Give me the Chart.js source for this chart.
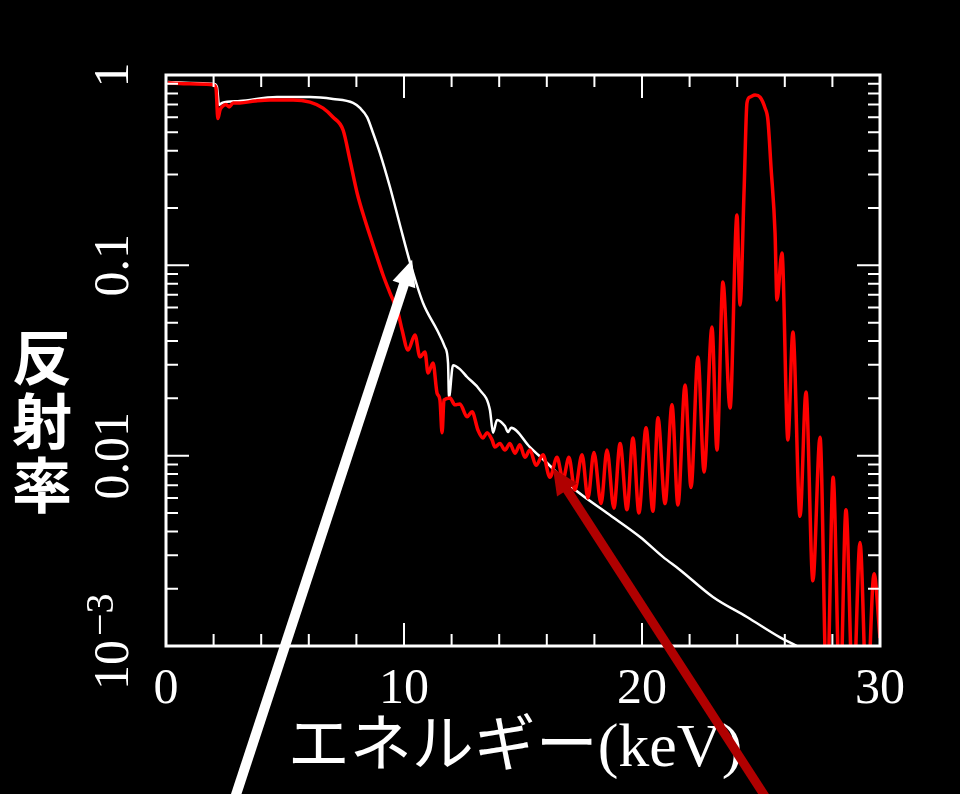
<!DOCTYPE html>
<html>
<head>
<meta charset="UTF-8">
<title>反射率</title>
<script src="https://cdn.jsdelivr.net/npm/chart.js@4.4.0/dist/chart.umd.min.js"></script>
<style>
  body { margin: 0; background: #000; }
  #wrap { width: 960px; height: 794px; }
</style>
</head>
<body>
<div id="wrap"><canvas id="myChart" width="960" height="794"></canvas></div>

<script>
// multilayer (red)
let redE = [0.08,1.0,1.97,2.1,2.18,2.27,2.35,2.52,2.65,2.82,
  3.11,3.74,4.37,5.34,6.05,6.6,7.02,7.44,7.73,8.03,
  8.36,8.7,9.12,9.41,9.75,9.92,10.17,10.46,10.67,10.88,
  11.01,11.22,11.39,11.51,11.6,11.68,11.93,12.14,12.35,12.65,
  12.86,13.11,13.32,13.49,13.7,13.82,14.03,14.24,14.45,14.66,
  14.87,15.08,15.29,15.55,15.84,16.13,16.43,16.68,16.93,17.18,
  17.48,17.73,17.98,18.28,18.53,18.82,19.08,19.37,19.62,19.87,
  20.17,20.46,20.67,20.97,21.26,21.51,21.81,22.06,22.35,22.61,
  22.94,23.15,23.4,23.7,23.99,24.12,24.29,24.41,24.54,24.75,
  24.96,25.17,25.29,25.42,25.59,25.67,25.88,26.13,26.34,26.64,
  26.89,27.18,27.48,27.77,28.03,28.32,28.57,28.87,29.16,29.45,
  29.75,30.0];
let redR = [0.91,0.90,0.89,0.855,0.59,0.655,0.68,0.70,0.68,0.713,
  0.713,0.73,0.74,0.74,0.72,0.67,0.60,0.514,0.357,0.24,
  0.173,0.128,0.089,0.0716,0.0562,0.0457,0.0359,0.0431,0.033,0.0351,
  0.0272,0.0307,0.0213,0.0196,0.0132,0.0196,0.0201,0.0185,0.0187,0.016,
  0.017,0.0136,0.0124,0.0132,0.0121,0.0111,0.0116,0.0107,0.0116,0.0103,
  0.0114,0.0098,0.0107,0.0089,0.0101,0.0077,0.0098,0.0075,0.0098,0.0066,
  0.0101,0.006,0.0104,0.0056,0.0107,0.0053,0.0116,0.0052,0.0124,0.005,
  0.014,0.0051,0.0158,0.0056,0.0185,0.0055,0.0235,0.0068,0.033,0.0082,
  0.0474,0.0107,0.0817,0.0178,0.184,0.0619,0.249,0.713,0.766,0.785,
  0.766,0.671,0.58,0.329,0.148,0.0658,0.116,0.0121,0.0447,0.0048,
  0.0216,0.0022,0.0125,0.0005,0.0077,0.0005,0.0052,0.0005,0.0035,0.0005,
  0.0024,0.0011];

// single layer (white)
let whiteE = [0.08,1.01,2.02,2.14,2.23,2.35,3.11,4.66,6.05,7.02,
  7.86,8.15,8.45,8.7,8.99,9.41,9.83,10.25,10.8,11.39,
  11.72,11.85,11.89,12.06,12.35,12.65,13.19,13.61,13.74,13.91,
  14.24,14.37,14.5,15.29,16.01,17.1,18.53,19.92,20.88,21.6,
  22.98,24.41,25.8,26.51,27.06];
let whiteR = [0.92,0.908,0.897,0.865,0.696,0.713,0.73,0.766,0.766,0.748,
  0.713,0.671,0.601,0.496,0.389,0.258,0.163,0.104,0.0634,0.0457,
  0.0372,0.0307,0.0203,0.0299,0.0285,0.0259,0.0221,0.0174,0.0132,0.0154,
  0.0143,0.0133,0.014,0.0111,0.00915,0.00676,0.005,0.00374,0.00294,0.00251,
  0.00181,0.00142,0.00111,0.001,0.00091];

let xTicks = [0, 10, 20, 30];
let yTicks = [1, 0.1, 0.01, 0.001];
let yTickLabels = ["1", "0.1", "0.01", "10^\u22123"];

// arrows: [E, R] of tail and tip
let whiteArrow = [[2.75, 0.00014], [10.34, 0.107]];
let redArrow = [[25.5, 0.00014], [16.26, 0.0086]];

function pts(xs, ys) {
  let out = [];
  for (let i = 0; i < xs.length; i++) out.push({x: xs[i], y: ys[i]});
  return out;
}

const TICKFONT = '50px "Liberation Serif"';

const frame = {
  id: 'frame',
  afterDraw(chart) {
    const ctx = chart.ctx, a = chart.chartArea;
    const xs = chart.scales.x, ys = chart.scales.y;
    ctx.save();
    ctx.strokeStyle = '#fff';
    ctx.fillStyle = '#fff';

    // ticks on all four sides
    ctx.lineWidth = 2;
    ctx.beginPath();
    for (let v = 0; v <= 30; v += 2) {
      let px = xs.getPixelForValue(v);
      let len = v % 10 === 0 ? 23 : 12;
      ctx.moveTo(px, a.bottom); ctx.lineTo(px, a.bottom - len);
      ctx.moveTo(px, a.top); ctx.lineTo(px, a.top + len);
    }
    for (let d = -3; d < 0; d++) {
      for (let m = 1; m <= 9; m++) {
        let py = ys.getPixelForValue(m * Math.pow(10, d));
        let len = m === 1 ? 23 : 12;
        ctx.moveTo(a.left, py); ctx.lineTo(a.left + len, py);
        ctx.moveTo(a.right, py); ctx.lineTo(a.right - len, py);
      }
    }
    ctx.stroke();
    ctx.lineWidth = 3;
    ctx.strokeRect(a.left, a.top, a.right - a.left, a.bottom - a.top);

    // x tick labels
    ctx.font = TICKFONT;
    ctx.textAlign = 'center';
    ctx.textBaseline = 'middle';
    xTicks.forEach(v => ctx.fillText(String(v), xs.getPixelForValue(v), a.bottom + 44));

    // y tick labels, rotated
    yTicks.forEach((v, i) => {
      let py = ys.getPixelForValue(v);
      let lab = yTickLabels[i];
      ctx.save();
      if (lab.indexOf('^') >= 0) {
        let parts = lab.split('^');
        ctx.translate(a.left - 51, py + 44);
        ctx.rotate(-Math.PI / 2);
        ctx.textAlign = 'left';
        ctx.font = TICKFONT;
        ctx.fillText(parts[0], 0, 0);
        let w = ctx.measureText(parts[0]).width;
        ctx.font = '40px "Liberation Serif"';
        ctx.fillText(parts[1], w + 4, -13);
      } else {
        ctx.translate(a.left - 51, py);
        ctx.rotate(-Math.PI / 2);
        ctx.fillText(lab, 0, 0);
      }
      ctx.restore();
    });

    // axis titles
    ctx.font = '62px "Liberation Serif", "Noto Sans CJK JP"';
    ctx.textAlign = 'center';
    ctx.fillText('エネルギー(keV)', 515, 750);
    ctx.font = 'bold 60px "Noto Sans CJK JP"';
    ['反', '射', '率'].forEach((c, i) => ctx.fillText(c, 42, 357 + i * 64));

    // arrows
    drawArrow(ctx, xs, ys, whiteArrow, '#ffffff', 10);
    drawArrow(ctx, xs, ys, redArrow, '#b00000', 9);
    ctx.restore();
  }
};

function drawArrow(ctx, xs, ys, arr, color, lw) {
  let x0 = xs.getPixelForValue(arr[0][0]), y0 = ys.getPixelForValue(arr[0][1]);
  let x1 = xs.getPixelForValue(arr[1][0]), y1 = ys.getPixelForValue(arr[1][1]);
  let dx = x1 - x0, dy = y1 - y0, L = Math.hypot(dx, dy);
  let ux = dx / L, uy = dy / L;
  let hl = 26, hw = 12;
  let bx = x1 - ux * hl, by = y1 - uy * hl;
  ctx.strokeStyle = color;
  ctx.fillStyle = color;
  ctx.lineWidth = lw;
  ctx.beginPath();
  ctx.moveTo(x0, y0);
  ctx.lineTo(bx + ux * 2, by + uy * 2);
  ctx.stroke();
  ctx.beginPath();
  ctx.moveTo(x1, y1);
  ctx.lineTo(bx - uy * hw, by + ux * hw);
  ctx.lineTo(bx + uy * hw, by - ux * hw);
  ctx.closePath();
  ctx.fill();
}

new Chart("myChart", {
  type: "line",
  data: {
    datasets: [
      { data: pts(redE, redR), borderColor: "#ff0000", borderWidth: 3.5, pointRadius: 0, cubicInterpolationMode: "monotone" },
      { data: pts(whiteE, whiteR), borderColor: "#ffffff", borderWidth: 2.5, pointRadius: 0, cubicInterpolationMode: "monotone" }
    ]
  },
  options: {
    responsive: false,
    animation: false,
    devicePixelRatio: 1,
    layout: { padding: { left: 166, top: 75, right: 80, bottom: 148 } },
    plugins: { legend: { display: false }, tooltip: { enabled: false } },
    scales: {
      x: { type: "linear", min: 0, max: 30, display: false },
      y: { type: "logarithmic", min: 0.001, max: 1, display: false }
    }
  },
  plugins: [frame]
});
</script>
</body>
</html>
